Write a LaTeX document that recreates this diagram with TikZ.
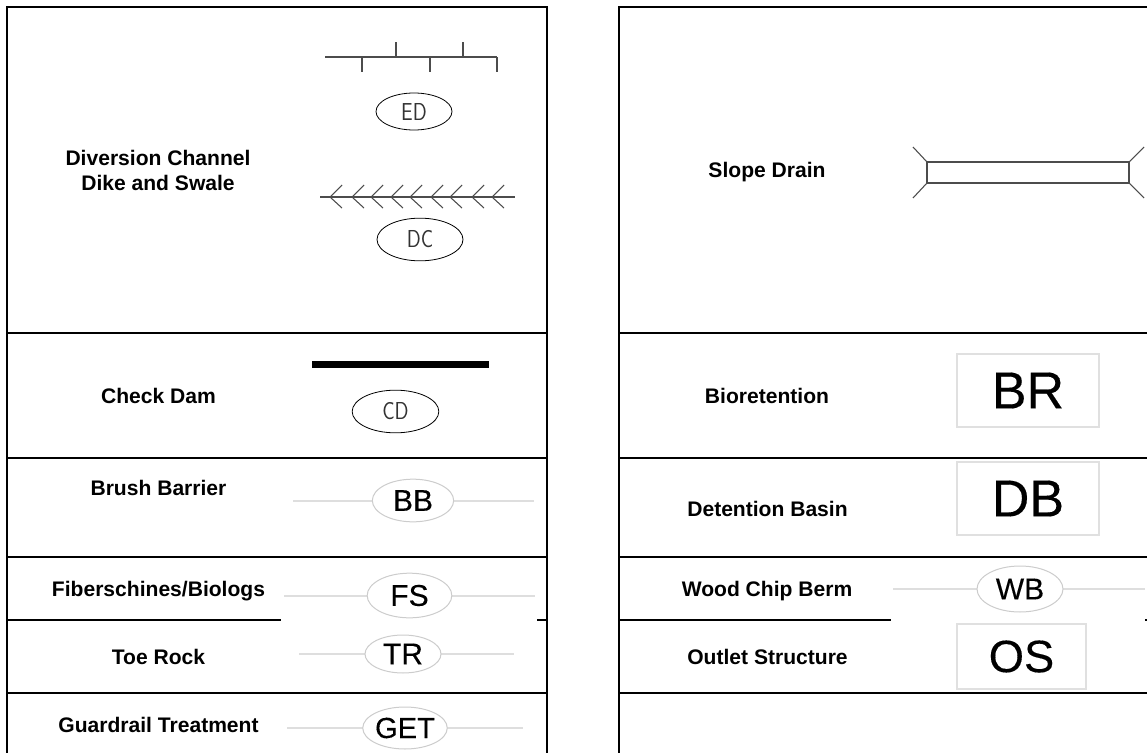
\documentclass[tikz,border=0pt]{standalone}
\usepackage{fontspec}
\setmainfont{Liberation Sans}
\newfontfamily\symfont[FakeBold=0.25]{Liberation Sans}
\usetikzlibrary{shapes.geometric}
\newcommand{\thinlet}[1]{\scalebox{0.84}[1]{\sffamily #1}}
\tikzset{
  x=0.75pt,y=-0.75pt,
  frame/.style={line width=1.5pt,black},
  lab/.style={font=\fontsize{15.8pt}{18.75pt}\selectfont\bfseries,align=center,inner sep=0pt,anchor=base},
  thin sym/.style={line width=0.8pt,black!70},
  oval/.style={ellipse,draw=black,line width=0.6pt,inner sep=0pt,font=\fontsize{18.4pt}{18.4pt}\selectfont\color{black!80}},
  grayline/.style={line width=1.1pt,black!13},
  goval/.style={ellipse,draw=black!20,fill=white,line width=0.75pt,inner sep=0pt,font=\fontsize{22.5pt}{22.5pt}\selectfont\symfont},
  gbox/.style={rectangle,draw=black!12,fill=white,line width=1pt,inner sep=0pt}
}
\begin{document}
\begin{tikzpicture}
\useasboundingbox (0,0) rectangle (1147,753);
% left table frame
\draw[frame] (7,753) -- (7,7) -- (547,7) -- (547,753);
\draw[frame] (7,333) -- (547,333);
\draw[frame] (7,458) -- (547,458);
\draw[frame] (7,557) -- (547,557);
\draw[frame] (7,619.5) -- (281,619.5);
\draw[frame] (537,619.5) -- (547,619.5);
\draw[frame] (7,693) -- (547,693);
% right table frame
\draw[frame] (619,753) -- (619,7) -- (1147,7);
\draw[frame] (619,333) -- (1147,333);
\draw[frame] (619,458) -- (1147,458);
\draw[frame] (619,557) -- (1147,557);
\draw[frame] (619,619.5) -- (891,619.5);
\draw[frame] (1145,619.5) -- (1147,619.5);
\draw[frame] (619,693) -- (1147,693);
% labels
\node[lab] (l1) at (158,190) {Diversion Channel\\Dike and Swale};
\node[lab] (l2) at (158.5,403) {Check Dam};
\node[lab] (l3) at (158.5,495) {Brush Barrier};
\node[lab] (l4) at (158.5,596) {Fiberschines/Biologs};
\node[lab] (l5) at (158.5,664) {Toe Rock};
\node[lab] (l6) at (158.5,732) {Guardrail Treatment};
\node[lab] (r1) at (767,177) {Slope Drain};
\node[lab] (r2) at (767,403) {Bioretention};
\node[lab] (r3) at (767.5,516) {Detention Basin};
\node[lab] (r4) at (767,596) {Wood Chip Berm};
\node[lab] (r5) at (767.5,664) {Outlet Structure};
% ED symbol
\draw[thin sym] (325,57) -- (497,57);
\foreach \xx/\a/\b in {362/57/72,396/42/57,430/57/72,463/42/57,497/57/72}
  \draw[thin sym] (\xx,\a) -- (\xx,\b);
\node[oval,minimum width=57pt,minimum height=27.75pt] (ed) at (414,111.5) {\thinlet{ED}};
% DC symbol
\draw[thin sym] (320,197) -- (515,197);
\foreach \xx in {330,352,371,391,410,431,450,472,492}
  \draw[thin sym] (\xx+12,185) -- (\xx,197) -- (\xx+12,208);
\node[oval,minimum width=64.5pt,minimum height=32pt] (dc) at (420,239.5) {\thinlet{DC}};
% CD symbol
\fill[black] (312,361) rectangle (489,368);
\node[oval,minimum width=65pt,minimum height=32pt] (cd) at (395.5,411.5) {\thinlet{CD}};
% gray-oval line symbols
\draw[grayline] (293,501) -- (534,501);
\node[goval,minimum width=61pt,minimum height=32pt] (bb) at (413,500.5) {BB};
\draw[grayline] (284,596) -- (535,596);
\node[goval,minimum width=63.5pt,minimum height=33.5pt] (fs) at (409.5,595.5) {FS};
\draw[grayline] (299,654) -- (514,654);
\node[goval,minimum width=57pt,minimum height=28.5pt] (tr) at (403,654) {TR};
\draw[grayline] (287,728) -- (523,728);
\node[goval,minimum width=60pt,minimum height=31.5pt,font=\fontsize{21.8pt}{22pt}\selectfont\symfont] (get) at (405,728) {GET};
% slope drain
\draw[thin sym] (927,162) rectangle (1129,183);
\draw[thin sym] (913,147) -- (927,162);
\draw[thin sym] (913,198) -- (927,183);
\draw[thin sym] (1129,162) -- (1144,147);
\draw[thin sym] (1129,183) -- (1144,198);
% boxes
\node[gbox,minimum width=106.5pt,minimum height=54.75pt,font=\fontsize{39pt}{39pt}\selectfont\symfont] (br) at (1028,390.5) {BR};
\node[gbox,minimum width=106.5pt,minimum height=54.75pt,font=\fontsize{39pt}{39pt}\selectfont\symfont] (db) at (1028,498.5) {DB};
\node[gbox,minimum width=96.75pt,minimum height=48.75pt,font=\fontsize{34pt}{34pt}\selectfont\symfont] (os) at (1021.5,656.5) {OS};
\draw[grayline] (893,589) -- (1145,589);
\node[goval,minimum width=64.5pt,minimum height=34.5pt] (wb) at (1020,589) {WB};
\end{tikzpicture}
\end{document}
